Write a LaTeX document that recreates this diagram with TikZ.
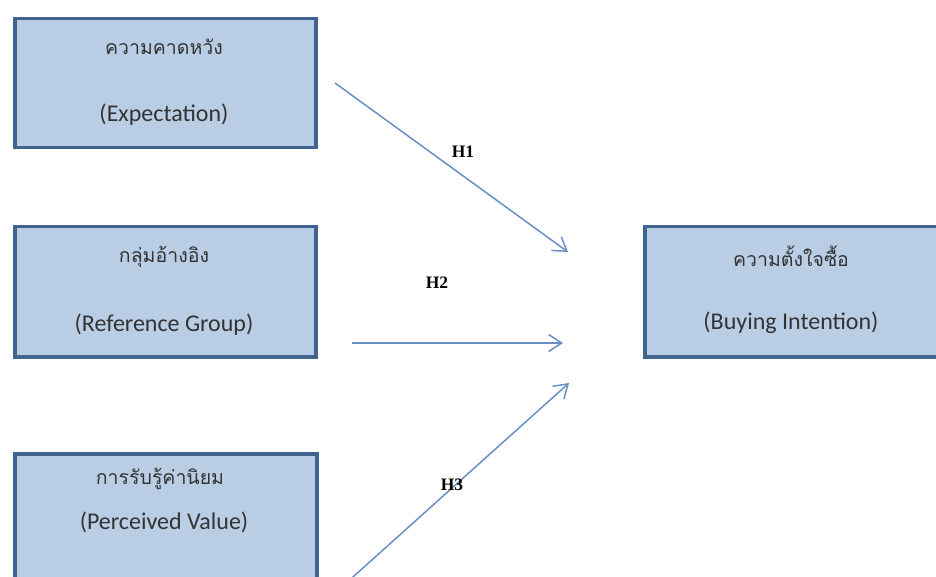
\documentclass[tikz,border=0pt]{standalone}
\usepackage{fontspec}
\setmainfont{Carlito}
\newfontfamily\thaifont[Script=Thai]{Loma}
\newfontfamily\hfont{Liberation Serif}
\usetikzlibrary{arrows.meta}
\definecolor{boxfill}{HTML}{B9CDE5}
\definecolor{boxline}{HTML}{41648F}
\definecolor{arrowcol}{HTML}{6A8FC4}
\begin{document}
\begin{tikzpicture}[x=1pt,y=-1pt,
  box/.style={draw=boxline, fill=boxfill, line width=3.5pt, minimum width=301pt, minimum height=129pt, inner sep=0pt, anchor=north west},
  thlbl/.style={font=\thaifont\fontsize{19.5}{24}\selectfont, text=black!80, inner sep=0pt},
  enlbl/.style={font=\fontsize{24}{29}\selectfont, text=black!80, inner sep=0pt},
  hlbl/.style={font=\hfont\bfseries\fontsize{17.5}{21}\selectfont, text=black, inner sep=0pt},
  link/.style={draw=arrowcol, line width=1.5pt, -{Straight Barb[length=13pt,width=17pt]}}]
\useasboundingbox (0,0) rectangle (936,577);
\clip (0,0) rectangle (936,577);
\fill[white] (0,0) rectangle (936,577);
% boxes
\node[box] (b1) at (13,17) {};
\node[box, minimum height=130pt] (b2) at (13,225) {};
\node[box, minimum width=302pt] (b3) at (13,452) {};
\node[box, minimum height=130pt] (b4) at (643,225) {};
% labels
\node[thlbl] (t1) at (164,47) {ความคาดหวัง};
\node[enlbl] (e1) at (164,115) {(Expectation)};
\node[thlbl] (t2) at (164,257) {กลุ่มอ้างอิง};
\node[enlbl] (e2) at (164,325) {(Reference Group)};
\node[thlbl] (t3) at (160,479) {การรับรู้ค่านิยม};
\node[enlbl] (e3) at (164,522) {(Perceived Value)};
\node[thlbl] (t4) at (791,256) {ความตั้งใจซื้อ};
\node[enlbl] (e4) at (791,323) {(Buying Intention)};
% arrows
\coordinate (a1s) at (335,83);
\coordinate (a1e) at (568,252);
\coordinate (a2s) at (352,343);
\coordinate (a2e) at (563,343);
\coordinate (a3s) at (344,585);
\coordinate (a3e) at (569,383);
\draw[link] (a1s) -- (a1e);
\draw[link] (a2s) -- (a2e);
\draw[link] (a3s) -- (a3e);
\node[hlbl] (h1) at (463,152) {H1};
\node[hlbl] (h2) at (437,283) {H2};
\node[hlbl] (h3) at (452,485) {H3};
\end{tikzpicture}
\end{document}
